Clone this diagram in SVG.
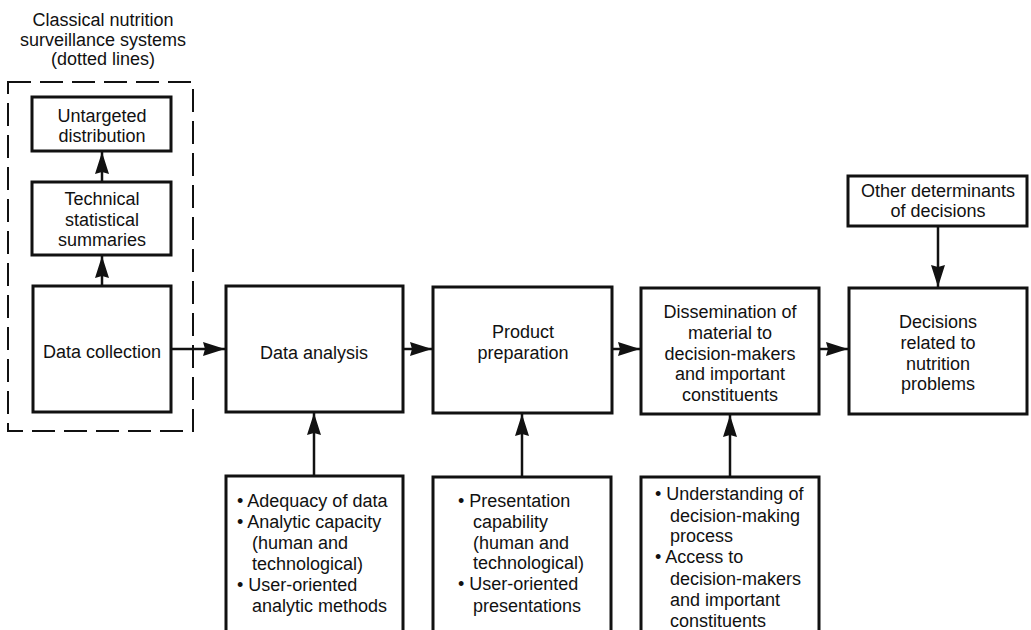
<svg xmlns="http://www.w3.org/2000/svg" width="1031" height="630" viewBox="0 0 1031 630">
<style>
.box{fill:#fff;stroke:#111;stroke-width:3}
.dash{fill:none;stroke:#111;stroke-width:2;stroke-dasharray:23 9}
.t{font-family:"Liberation Sans",Arial,sans-serif;font-size:18px;fill:#111}
.c{text-anchor:middle}
.conn{stroke:#111;stroke-width:2.5;fill:none}
</style>
<defs>
<marker id="ah" markerUnits="userSpaceOnUse" markerWidth="22" markerHeight="14" refX="22" refY="7" orient="auto">
<path d="M0,0 L22,7 L0,14 L2,7 Z" fill="#111"/>
</marker>
</defs>
<rect width="1031" height="630" fill="#fff"/>

<g id="classical">
<text class="t c" x="103" y="26">Classical nutrition</text>
<text class="t c" x="103" y="46">surveillance systems</text>
<text class="t c" x="103" y="65">(dotted lines)</text>
<rect class="dash" x="8" y="82" width="185" height="349"/>
</g>

<g id="untargeted">
<rect class="box" x="32" y="97" width="139" height="54"/>
<text class="t c" x="102" y="122">Untargeted</text>
<text class="t c" x="102" y="142">distribution</text>
</g>

<g id="technical">
<rect class="box" x="32" y="182" width="139" height="73"/>
<text class="t c" x="102" y="205">Technical</text>
<text class="t c" x="102" y="226">statistical</text>
<text class="t c" x="102" y="246">summaries</text>
</g>

<g id="datacollection">
<rect class="box" x="33" y="286" width="138" height="126"/>
<text class="t c" x="102" y="358">Data collection</text>
</g>

<g id="dataanalysis">
<rect class="box" x="226" y="286" width="177" height="126"/>
<text class="t c" x="314" y="359">Data analysis</text>
</g>

<g id="product">
<rect class="box" x="433" y="287" width="179" height="126"/>
<text class="t c" x="523" y="338">Product</text>
<text class="t c" x="523" y="359">preparation</text>
</g>

<g id="dissemination">
<rect class="box" x="641" y="288" width="178" height="126"/>
<text class="t c" x="730" y="318">Dissemination of</text>
<text class="t c" x="730" y="339">material to</text>
<text class="t c" x="730" y="360">decision-makers</text>
<text class="t c" x="730" y="380">and important</text>
<text class="t c" x="730" y="401">constituents</text>
</g>

<g id="decisions">
<rect class="box" x="849" y="288" width="178" height="126"/>
<text class="t c" x="938" y="328">Decisions</text>
<text class="t c" x="938" y="349">related to</text>
<text class="t c" x="938" y="370">nutrition</text>
<text class="t c" x="938" y="390">problems</text>
</g>

<g id="other">
<rect class="box" x="848" y="176" width="179" height="50"/>
<text class="t c" x="938" y="197">Other determinants</text>
<text class="t c" x="938" y="217">of decisions</text>
</g>

<g id="analysis-factors">
<rect class="box" x="226" y="476" width="177" height="180"/>
<text class="t" x="237" y="507">• Adequacy of data</text>
<text class="t" x="237" y="528">• Analytic capacity</text>
<text class="t" x="252" y="549">(human and</text>
<text class="t" x="252" y="570">technological)</text>
<text class="t" x="237" y="591">• User-oriented</text>
<text class="t" x="252" y="612">analytic methods</text>
</g>

<g id="product-factors">
<rect class="box" x="433" y="477" width="178" height="180"/>
<text class="t" x="458" y="507">• Presentation</text>
<text class="t" x="473" y="528">capability</text>
<text class="t" x="473" y="549">(human and</text>
<text class="t" x="473" y="569">technological)</text>
<text class="t" x="458" y="590">• User-oriented</text>
<text class="t" x="473" y="612">presentations</text>
</g>

<g id="dissemination-factors">
<rect class="box" x="641" y="477" width="178" height="180"/>
<text class="t" x="655" y="500">• Understanding of</text>
<text class="t" x="670" y="522">decision-making</text>
<text class="t" x="670" y="542">process</text>
<text class="t" x="655" y="563">• Access to</text>
<text class="t" x="670" y="585">decision-makers</text>
<text class="t" x="670" y="606">and important</text>
<text class="t" x="670" y="627">constituents</text>
</g>

<g id="connectors">
<line class="conn" x1="102" y1="286" x2="102" y2="256" marker-end="url(#ah)"/>
<line class="conn" x1="102" y1="182" x2="102" y2="152" marker-end="url(#ah)"/>
<line class="conn" x1="171" y1="349" x2="225" y2="349" marker-end="url(#ah)"/>
<line class="conn" x1="403" y1="349" x2="432" y2="349" marker-end="url(#ah)"/>
<line class="conn" x1="612" y1="349" x2="640" y2="349" marker-end="url(#ah)"/>
<line class="conn" x1="819" y1="349" x2="848" y2="349" marker-end="url(#ah)"/>
<line class="conn" x1="938" y1="226" x2="938" y2="287" marker-end="url(#ah)"/>
<line class="conn" x1="314" y1="476" x2="314" y2="413" marker-end="url(#ah)"/>
<line class="conn" x1="522" y1="477" x2="522" y2="414" marker-end="url(#ah)"/>
<line class="conn" x1="730" y1="477" x2="730" y2="415" marker-end="url(#ah)"/>
</g>
</svg>
